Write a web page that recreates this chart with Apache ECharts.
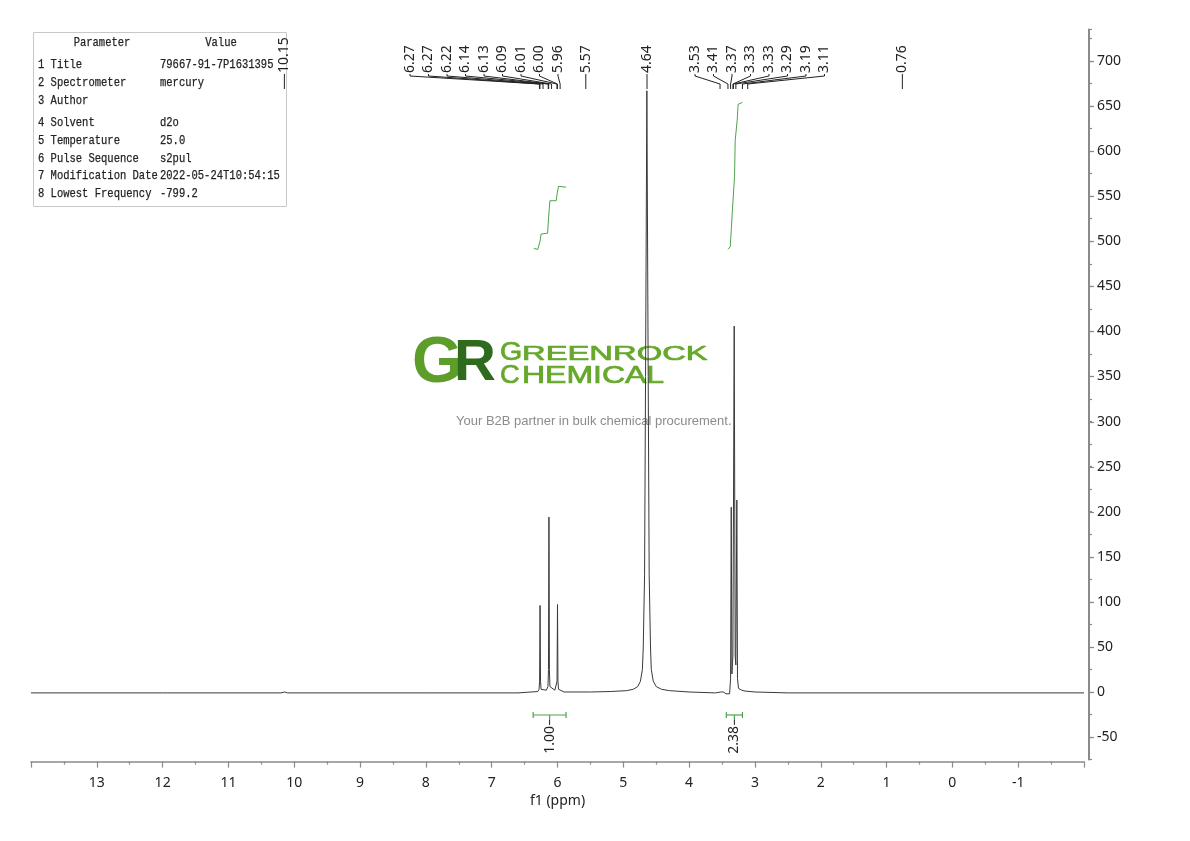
<!DOCTYPE html>
<html><head><meta charset="utf-8">
<script src="https://cdn.jsdelivr.net/npm/echarts@6/dist/echarts.min.js"></script>
<style>html,body{margin:0;padding:0;background:#fff}#c{width:1190px;height:841px}</style>
</head><body><div id="c"></div>
<script>
// ---- data (ppm, intensity) ----
const spectrum = [
  [14,-1],[12,-1],[10.2,-1],[10.15,0],[10.1,-1],[8,-1],[6.6,-1],[6.4,0],
  [6.30,0.5],[6.28,3],[6.272,12],[6.265,96],[6.258,12],[6.25,3],
  [6.17,2],[6.145,6],[6.137,25],[6.13,194],[6.123,25],[6.115,6],
  [6.04,2],[6.015,3],[6.007,12],[6.0,97],[5.993,12],[5.985,3],[5.96,1],[5.9,0],[5.5,0],
  [5.2,0.5],[4.95,1.5],[4.85,3],[4.78,6],[4.74,12],[4.71,25],[4.697,50],[4.677,130],[4.662,350],
  [4.642,667],[4.622,350],[4.607,130],[4.587,50],[4.575,25],[4.545,12],[4.5,6],[4.42,3],[4.3,1.5],
  [4.0,0],[3.6,-1],[3.52,0],[3.5,-2],[3.48,0],[3.44,-2],[3.41,-4],[3.385,-2],
  [3.37,15],[3.36,205],[3.35,20],[3.335,40],[3.315,406],[3.30,40],[3.29,30],[3.275,213],[3.265,15],
  [3.25,4],[3.2,2],[3.15,1],[3.0,0],[2.5,-1],[-2,-1]
];
const integral1Curve = [[6.36,492],[6.30,491],[6.28,493],[6.265,500],[6.25,508],[6.15,509],[6.135,527],[6.115,545],[6.02,545],[6.005,553],[5.985,561],[5.96,562],[5.87,560]];
const integral2Curve = [[3.41,491],[3.375,494],[3.36,512],[3.345,531],[3.325,533],[3.31,572],[3.30,612],[3.285,614],[3.27,634],[3.255,652],[3.19,654]];
const integralRanges = [[6.37,5.87],[3.435,3.19]];
const integralValues = ['1.00','2.38'];
const peakGroup1Text = ['6.27','6.27','6.22','6.14','6.13','6.09','6.01','6.00','5.96'];
const peakGroup1Ppm  = [6.274,6.267,6.22,6.141,6.134,6.09,6.008,6.001,5.96];
const peakGroup2Text = ['3.53','3.41','3.37','3.33','3.33','3.29','3.19','3.11'];
const peakGroup2Ppm  = [3.53,3.41,3.37,3.334,3.327,3.29,3.19,3.11];
const singlePeakText = ['10.15','5.57','4.64','0.76'];
const singlePeakPpm  = [10.15,5.57,4.64,0.76];
const yMajorTicks = [-50,0,50,100,150,200,250,300,350,400,450,500,550,600,650,700];
const paramNames  = ['1 Title','2 Spectrometer','3 Author','4 Solvent','5 Temperature','6 Pulse Sequence','7 Modification Date','8 Lowest Frequency'];
const paramValues = ['79667-91-7P1631395','mercury','','d2o','25.0','s2pul','2022-05-24T10:54:15','-799.2'];

// ---- layout ----
const L = {
  labelFont: '14px "Noto Sans"', textColor: '#222', axisColor: '#8a8a8a', green: '#4ea24e',
  g1Start: 410, g2Start: 695, pitch: 18.5,
  labelBottom: 73, bracketA: 76, bracketB: 84, bracketEnd: 89,
  integralBarVal: -25.5
};

const chart = echarts.init(document.getElementById('c'), null, {renderer:'canvas'});
const option = {
  animation: false,
  backgroundColor: '#fff',
  grid: {left: 31, right: 106, top: 29.45, bottom: 81.4, containLabel: false},
  xAxis: {
    type: 'value', inverse: true, min: -2, max: 14, interval: 1, offset: 2,
    name: 'f1 (ppm)', nameLocation: 'middle', nameGap: 29,
    nameTextStyle: {fontFamily: 'Noto Sans', fontSize: 14, color: L.textColor},
    axisLine: {show: true, onZero: false, lineStyle: {color: L.axisColor, width: 1.5}},
    axisTick: {show: true, length: 6, lineStyle: {color: L.axisColor, width: 1.2}},
    minorTick: {show: true, splitNumber: 2, length: 3, lineStyle: {color: L.axisColor, width: 1.2}},
    axisLabel: {showMinLabel: false, showMaxLabel: false, margin: 14, fontFamily: 'Noto Sans', fontSize: 14, color: L.textColor},
    splitLine: {show: false}
  },
  yAxis: {
    type: 'value', position: 'right', offset: 5, min: -75, max: 735, interval: 25,
    axisLine: {show: true, onZero: false, lineStyle: {color: L.axisColor, width: 2}},
    axisTick: {show: true, length: 3, lineStyle: {color: L.axisColor, width: 1.2}},
    axisLabel: {margin: 8, fontFamily: 'Noto Sans', fontSize: 14, color: L.textColor,
      formatter: v => (Math.round(v) % 50 === 0 ? String(Math.round(v)) : '')},
    splitLine: {show: false}
  },
  series: [
    {type: 'line', data: spectrum, showSymbol: false, symbol: 'none', lineStyle: {color: '#3a3a3a', width: 1}, z: 3},
    {type: 'line', data: integral1Curve, showSymbol: false, symbol: 'none', lineStyle: {color: L.green, width: 1}, z: 3},
    {type: 'line', data: integral2Curve, showSymbol: false, symbol: 'none', lineStyle: {color: L.green, width: 1}, z: 3}
  ]
};
chart.setOption(option);

const px = (ppm, v) => chart.convertToPixel({gridIndex: 0}, [ppm, v]);
const g = [];
const line = (x1,y1,x2,y2,color,w) => g.push({type:'line', silent:true, z:10, shape:{x1,y1,x2,y2}, style:{stroke:color||'#222', lineWidth:w||1}});
const vtext = (x,y,t,align) => g.push({type:'text', silent:true, z:10, x, y, rotation: Math.PI/2,
  style:{text:t, font:L.labelFont, fill:L.textColor, align:align||'left', verticalAlign:'middle'}});

// longer major ticks on the y axis (every 50)
const yAxisX = px(-2, 0)[0] + 5;
yMajorTicks.forEach(v => {
  const y = Math.round(px(0, v)[1]) + 0.5;
  line(yAxisX, y, yAxisX + 5, y, L.axisColor, 1.2);
});

// peak label groups
function group(texts, ppms, start) {
  texts.forEach((t,i) => {
    const lx = start + i*L.pitch;
    const tx = px(ppms[i], 0)[0];
    vtext(lx, L.labelBottom, t);
    g.push({type:'polyline', silent:true, z:10, shape:{points:[[lx,L.labelBottom+1],[lx,L.bracketA],[tx,L.bracketB],[tx,L.bracketEnd]]}, style:{stroke:'#222', lineWidth:1, fill:null}});
  });
}
group(peakGroup1Text, peakGroup1Ppm, L.g1Start);
group(peakGroup2Text, peakGroup2Ppm, L.g2Start);
singlePeakText.forEach((t,i) => {
  const tx = px(singlePeakPpm[i], 0)[0];
  vtext(tx, L.labelBottom, t);
  line(tx, L.labelBottom+1, tx, L.bracketEnd);
});

// integral bars
integralRanges.forEach((r,i) => {
  const a = px(r[0], L.integralBarVal), b = px(r[1], L.integralBarVal);
  const y = a[1], cx = (a[0]+b[0])/2;
  line(a[0], y, b[0], y, L.green, 1.2);
  line(a[0], y-3, a[0], y+3, L.green, 1.2);
  line(b[0], y-3, b[0], y+3, L.green, 1.2);
  line(cx, y, cx, y+5, L.green, 1.2);
  line(cx, y+5, cx, y+10, '#222', 1);
  vtext(cx, y+11, integralValues[i], 'right');
});

// parameter table
const tf = '13px "Liberation Mono"';
const sx = 0.808;
g.push({type:'rect', silent:true, z:5, shape:{x:33.5, y:32.5, width:253, height:174}, style:{fill:'#fff', stroke:'#c8c8c8', lineWidth:1}});
const tstyle = (t, align) => ({text:t, font:tf, fill:'#222', stroke:'#222', lineWidth:0.25, align:align||'left', verticalAlign:'middle'});
g.push({type:'text', silent:true, z:6, x:102, y:43, scaleX:sx, style:tstyle('Parameter','center')});
g.push({type:'text', silent:true, z:6, x:221, y:43, scaleX:sx, style:tstyle('Value','center')});
const rowY = [65,83,101,123,141,159,176,194];
paramNames.forEach((n,i) => {
  g.push({type:'text', silent:true, z:6, x:38, y:rowY[i], scaleX:sx, style:tstyle(n)});
  g.push({type:'text', silent:true, z:6, x:160, y:rowY[i], scaleX:sx, style:tstyle(paramValues[i])});
});

// watermark
const wf = '"Liberation Sans"';
const wm = (x, y, t, font, fill, scaleX, stroke) => g.push({type:'text', silent:true, z:1, x, y, scaleX: scaleX||1,
  style:{text:t, font, fill, stroke: stroke ? fill : null, lineWidth: stroke||0, verticalAlign:'middle'}});
wm(412, 364, 'G', 'bold 65px '+wf, '#5d9e2b');
wm(454, 364, 'R', 'bold 58px '+wf, '#2f6b1d');
wm(500, 353, 'G', '26px '+wf, '#66a82c', 1.1, 0.7);
wm(522, 354.5, 'REENROCK', '21px '+wf, '#66a82c', 1.56, 0.7);
wm(500, 376, 'C', '26px '+wf, '#66a82c', 1.05, 0.7);
wm(522, 376.5, 'HEMICAL', '23px '+wf, '#66a82c', 1.39, 0.7);
wm(456, 421, 'Your B2B partner in bulk chemical procurement.', '13px '+wf, '#8c8c8c');

chart.setOption({graphic: {elements: g}});
</script></body></html>
